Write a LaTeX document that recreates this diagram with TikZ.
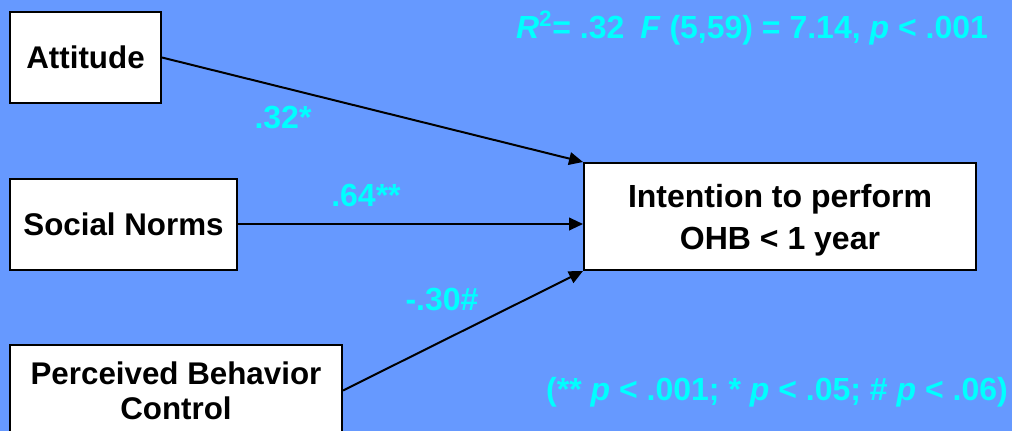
\documentclass[tikz,border=0pt]{standalone}
\usepackage{fontspec}
\setmainfont{Liberation Sans}
\usetikzlibrary{arrows.meta}
\definecolor{slideblue}{HTML}{6699FF}
\definecolor{statcyan}{HTML}{00FFFF}
\begin{document}
\begin{tikzpicture}[x=0.75pt,y=-0.75pt,
  varbox/.style={draw=black,fill=white,line width=1.5pt,inner sep=0pt,align=center,
    font=\fontsize{23.5}{26}\selectfont\bfseries},
  effect/.style={line width=1.5pt,-{Triangle[length=10.5pt,width=9.5pt]}},
  stat/.style={text=statcyan,inner sep=0pt,font=\fontsize{24}{27}\selectfont\bfseries}]
% background
\fill[slideblue] (0,0) rectangle (1012,431);
\useasboundingbox (0,0) rectangle (1012,431);
\clip (0,0) rectangle (1012,431);
% predictors
\node[varbox,minimum width=151*0.75pt,minimum height=91*0.75pt] (att) at (85.5,57.5) {Attitude};
\node[varbox,minimum width=227*0.75pt,minimum height=91*0.75pt] (norms) at (123.5,224) {Social Norms};
\node[varbox,minimum width=332*0.75pt,minimum height=91*0.75pt] (pbc) at (176,390.5) {Perceived Behavior\\Control};
% outcome
\node[varbox,minimum width=392*0.75pt,minimum height=107*0.75pt,text depth=0pt,
  font=\fontsize{24}{31.5}\selectfont\bfseries] (intent) at (780,216.5) {Intention to perform\\OHB < 1 year};
% paths
\draw[effect] (att.east) -- (intent.north west);
\draw[effect] (norms.east) -- (norms.east -| intent.west);
\draw[effect] (pbc.east) -- (intent.south west);
% coefficients
\node[stat] (c1) at (283,118) {.32*};
\node[stat] (c2) at (366,195) {.64**};
\node[stat] (c3) at (442,300) {-.30\#};
% model fit and key
\node[stat] (fit) at (752,28) {\textit{R}\textsuperscript{2}= .32\enspace\textit{F} (5,59) = 7.14, \textit{p} < .001};
\node[stat] (key) at (777,392) {(** \textit{p} < .001; * \textit{p} < .05; \# \textit{p} < .06)};
\end{tikzpicture}
\end{document}
